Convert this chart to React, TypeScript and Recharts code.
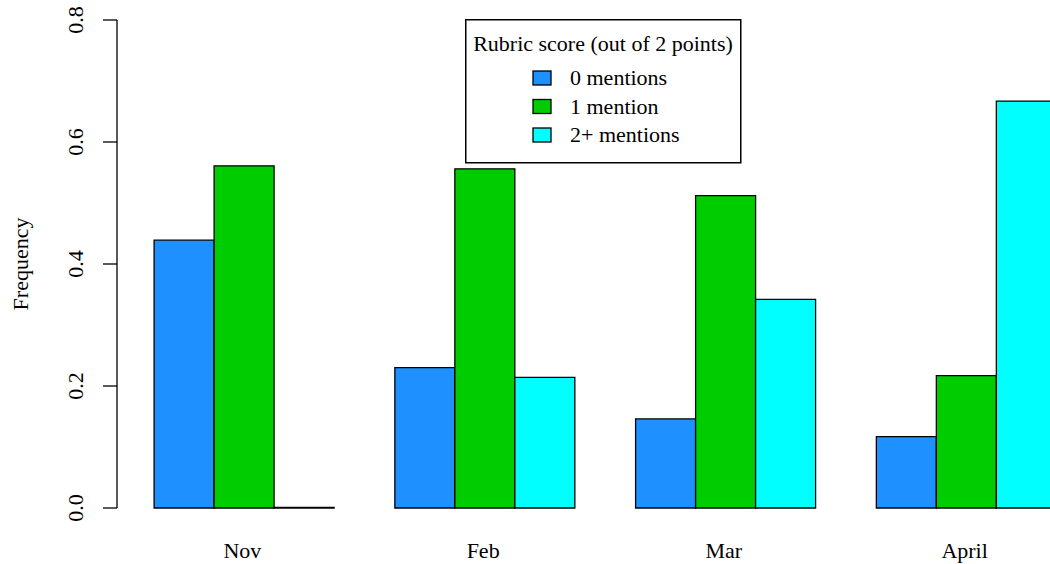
import { BarChart, Bar, XAxis, YAxis, Legend } from "recharts";

const months = ["Nov", "Feb", "Mar", "April"];
const zeroMentions = [0.439, 0.23, 0.146, 0.117];
const oneMention = [0.561, 0.556, 0.512, 0.217];
const twoPlusMentions = [0, 0.214, 0.342, 0.667];
const seriesNames = ["0 mentions", "1 mention", "2+ mentions"];
const yTicks = [0, 0.2, 0.4, 0.6, 0.8];

const FONT = '"Liberation Serif", "Times New Roman", serif';

const data = months.map((month, i) => ({
  month,
  zero: zeroMentions[i],
  one: oneMention[i],
  twoPlus: twoPlusMentions[i],
}));

function YTick({ x, y, payload }: { x?: number; y?: number; payload?: { value: number } }) {
  if (x == null || y == null || !payload) return null;
  const bx = x - 20;
  return (
    <text x={bx} y={y} transform={`rotate(-90, ${bx}, ${y})`} textAnchor="middle" fontSize={22} fontFamily={FONT} fill="#000">
      {payload.value.toFixed(1)}
    </text>
  );
}

function XTick({ x, y, payload }: { x?: number; y?: number; payload?: { value: string } }) {
  if (x == null || y == null || !payload) return null;
  return (
    <text x={x - 2} y={y + 50} textAnchor="middle" fontSize={22} fontFamily={FONT} fill="#000">
      {payload.value}
    </text>
  );
}

function FreqLabel({ viewBox }: { viewBox?: { x: number; y: number; width: number; height: number } }) {
  if (!viewBox) return null;
  const bx = viewBox.x + 28;
  const cy = viewBox.y + viewBox.height / 2;
  return (
    <text x={bx} y={cy} transform={`rotate(-90, ${bx}, ${cy})`} textAnchor="middle" fontSize={22} fontFamily={FONT} fill="#000">
      Frequency
    </text>
  );
}

// legend drawn as its own little svg so the serif font sticks
function LegendBox({ payload }: { payload?: Array<{ value: string; color?: string }> }) {
  const items = payload ?? [];
  return (
    <svg width={277} height={145} style={{ display: "block" }}>
      <rect x={0.75} y={0.75} width={275} height={143} fill="#fff" stroke="#000" strokeWidth={1.5} />
      <text x={138} y={32} textAnchor="middle" fontSize={22} fontFamily={FONT} fill="#000">
        Rubric score (out of 2 points)
      </text>
      {items.map((item, i) => {
        const cy = 59 + i * 28.5;
        return (
          <g key={item.value}>
            <rect x={68} y={cy - 7} width={18} height={14} fill={item.color} stroke="#000" strokeWidth={1.3} />
            <text x={105} y={cy + 7} fontSize={22} fontFamily={FONT} fill="#000">
              {item.value}
            </text>
          </g>
        );
      })}
    </svg>
  );
}

export default function App() {
  return (
    <div style={{ position: "absolute", left: 0, top: 0, width: 1050, height: 564, overflow: "hidden", background: "#fff" }}>
      <BarChart
        width={1087}
        height={564}
        data={data}
        margin={{ top: 20, right: 0, left: 0, bottom: 0 }}
        barCategoryGap="12.5%"
        barGap={0}
      >
        <XAxis
          dataKey="month"
          axisLine={false}
          tickLine={false}
          tickSize={0}
          tickMargin={0}
          height={56}
          padding={{ left: 7, right: 0 }}
          tick={<XTick />}
          interval={0}
        />
        <YAxis
          width={117}
          domain={[0, 0.8]}
          ticks={yTicks}
          tickSize={14}
          tickMargin={0}
          axisLine={{ stroke: "#000", strokeWidth: 1.3 }}
          tickLine={{ stroke: "#000", strokeWidth: 1.3 }}
          tick={<YTick />}
          label={<FreqLabel />}
          interval={0}
        />
        <Legend
          layout="vertical"
          align="center"
          verticalAlign="middle"
          content={<LegendBox />}
          wrapperStyle={{ left: 465, top: 19, width: 277 }}
        />
        <Bar dataKey="zero" name={seriesNames[0]} fill="#1E90FF" stroke="#000" strokeWidth={1.3} isAnimationActive={false} />
        <Bar dataKey="one" name={seriesNames[1]} fill="#00CD00" stroke="#000" strokeWidth={1.3} isAnimationActive={false} />
        <Bar dataKey="twoPlus" name={seriesNames[2]} fill="#00FFFF" stroke="#000" strokeWidth={1.3} minPointSize={0.5} isAnimationActive={false} />
      </BarChart>
    </div>
  );
}
